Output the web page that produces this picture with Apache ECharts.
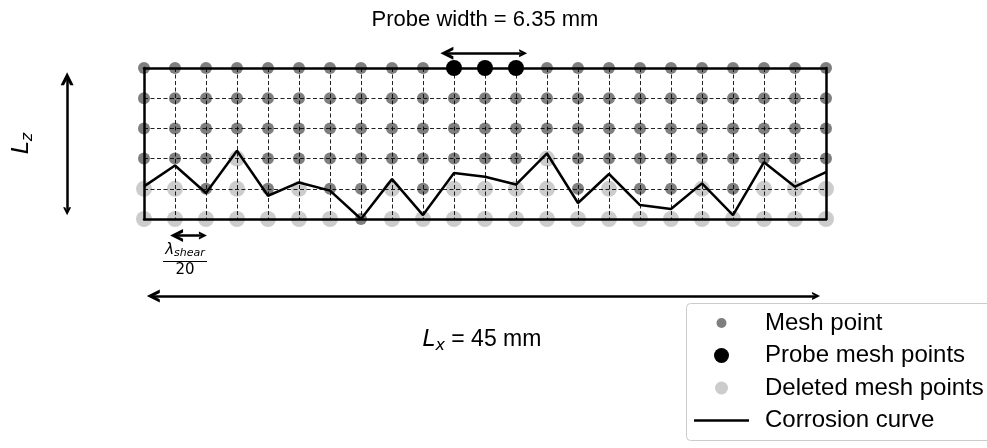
<!DOCTYPE html>
<html>
<head>
<meta charset="utf-8">
<script src="https://cdn.jsdelivr.net/npm/echarts/dist/echarts.min.js"></script>
<style>html,body{margin:0;padding:0;background:#fff}#c{width:987px;height:448px}</style>
</head>
<body>
<div id="c"></div>
<script>
// Mesh columns (x index) and rows (z index)
const columns = [0,1,2,3,4,5,6,7,8,9,10,11,12,13,14,15,16,17,18,19,20,21,22];
const rows = [0,1,2,3,4,5];
// Corrosion curve depth at each column (in mesh units)
const curveDepth = [1.08,1.77,0.86,2.26,0.77,1.21,0.94,0.00,1.32,0.13,1.52,1.40,1.14,2.17,0.53,1.49,0.46,0.33,1.18,0.13,1.88,1.07,1.55];
// Number of deleted rows (from bottom) in each column
const deletedRows = [2,2,1,3,1,2,1,0,2,1,2,2,2,3,1,2,1,1,2,1,2,2,2];
// Probe mesh points (columns on the top row)
const probeColumns = [10,11,12];
const legendNames = ['Mesh point','Probe mesh points','Deleted mesh points','Corrosion curve'];

const meshPts = [], delPts = [];
columns.forEach((c, i) => rows.forEach(r => {
  (r < deletedRows[i] ? delPts : meshPts).push([c, r]);
}));
const topRow = rows[rows.length - 1];
const probePts = probeColumns.map(c => [c, topRow]);
const curvePts = columns.map((c, i) => [c, curveDepth[i]]);

const chev = 'path://M0,10 L5,0 L10,10 L7.4,10 L5,5.2 L2.6,10 Z';
const B = 'M0,0 M55,20 ';
const circ = r => 'path://' + B + 'M' + (27.5 - r) + ',10 a' + r + ',' + r + ' 0 1,0 ' + (2 * r) + ',0 a' + r + ',' + r + ' 0 1,0 ' + (-2 * r) + ',0 Z';

const chart = echarts.init(document.getElementById('c'), null, {renderer: 'canvas'});
const axisCommon = {
  type: 'value', min: 0, interval: 1,
  axisLine: {show: true, onZero: false, lineStyle: {color: '#000', width: 2.5}},
  axisTick: {show: false}, axisLabel: {show: false},
};
const splitDash = {show: true, lineStyle: {color: '#222', width: 1, type: [4, 2.5]}};
const arrow = (a, b) => ({coords: [a, b]});

chart.setOption({
  animation: false,
  backgroundColor: '#fff',
  grid: {left: 143, top: 68, width: 683, height: 151},
  xAxis: [
    Object.assign({}, axisCommon, {max: columns[columns.length - 1], position: 'bottom', splitLine: splitDash}),
    Object.assign({}, axisCommon, {max: columns[columns.length - 1], position: 'top', splitLine: {show: false}})
  ],
  yAxis: [
    Object.assign({}, axisCommon, {max: topRow, position: 'left', splitLine: splitDash,
      name: '{L|L}{s|z}', nameLocation: 'middle', nameRotate: 90, nameGap: 109,
      nameTextStyle: {
        rich: {
          L: {fontFamily: 'DejaVu Sans', fontStyle: 'italic', fontSize: 23, color: '#000', lineHeight: 26},
          s: {fontFamily: 'DejaVu Sans', fontStyle: 'italic', fontSize: 16, color: '#000', lineHeight: 26, padding: [12, 0, 0, 0]}
        }
      }}),
    Object.assign({}, axisCommon, {max: topRow, position: 'right', splitLine: {show: false}})
  ],
  legend: {
    left: 686, top: 303, orient: 'vertical', z: 10,
    borderWidth: 0,
    padding: [8, 8, 8, 8], itemGap: 8.5, itemWidth: 55, itemHeight: 20,
    textStyle: {fontFamily: 'Liberation Sans', fontSize: 24, color: '#000', padding: [0, 0, 0, 11]},
    selectedMode: false,
    data: [
      {name: legendNames[0], icon: circ(5)},
      {name: legendNames[1], icon: circ(7.5)},
      {name: legendNames[2], icon: circ(6.5)},
      {name: legendNames[3], icon: 'path://' + B + 'M0,8.75 H55 V11.25 H0 Z'}
    ]
  },
  series: [
    {name: legendNames[2], type: 'scatter', data: delPts, symbolSize: 16, clip: false, z: 2,
     itemStyle: {color: 'rgba(0,0,0,0.2)', opacity: 1}, silent: true},
    {name: legendNames[0], type: 'scatter', data: meshPts, symbolSize: 12, clip: false, z: 2,
     itemStyle: {color: 'rgba(0,0,0,0.5)', opacity: 1}, silent: true},
    {name: legendNames[3], type: 'line', data: curvePts, showSymbol: false, symbol: 'none', clip: false, z: 3,
     lineStyle: {color: '#000', width: 2.5}, itemStyle: {color: '#000'}, silent: true},
    {name: legendNames[1], type: 'scatter', data: probePts, symbolSize: 16, clip: false, z: 4,
     itemStyle: {color: '#000', opacity: 1}, silent: true},
    {name: 'dimension arrows', type: 'lines', coordinateSystem: 'cartesian2d', clip: false, silent: true, z: 5,
     symbol: [chev, chev], symbolSize: [13, 8],
     lineStyle: {color: '#000', width: 2.5, opacity: 1, curveness: 0},
     data: [
       arrow([-2.48, 4.64], [-2.48, 0.26]),
       arrow([9.77, 5.49], [12.23, 5.49]),
       arrow([0.30, -2.55], [21.68, -2.55]),
       arrow([1.05, -0.55], [1.90, -0.55])
     ]}
  ],
  graphic: [
    {type: 'rect', z: 1, shape: {x: 686.5, y: 303.5, width: 330, height: 137, r: 4},
      style: {fill: '#fff', stroke: '#ccc', lineWidth: 1}},
    {type: 'text', x: 485, y: 20, style: {text: 'Probe width = 6.35 mm', align: 'center', verticalAlign: 'middle',
      font: '22px "Liberation Sans"', fill: '#000'}},
    {type: 'text', x: 482, y: 340, style: {
      text: '{L|L}{s|x}{t| = 45 mm}', align: 'center', verticalAlign: 'middle',
      rich: {
        L: {fontFamily: 'DejaVu Sans', fontStyle: 'italic', fontSize: 23, fill: '#000', lineHeight: 26},
        s: {fontFamily: 'DejaVu Sans', fontStyle: 'italic', fontSize: 16, fill: '#000', lineHeight: 26, padding: [12, 0, 0, 0]},
        t: {fontFamily: 'Liberation Sans', fontSize: 23, fill: '#000', lineHeight: 26}
      }}},
    {type: 'text', x: 185, y: 250, style: {
      text: '{L|λ}{s|shear}', align: 'center', verticalAlign: 'middle',
      rich: {
        L: {fontFamily: 'DejaVu Sans', fontStyle: 'italic', fontSize: 15, fill: '#000', lineHeight: 18},
        s: {fontFamily: 'DejaVu Sans', fontStyle: 'italic', fontSize: 11, fill: '#000', lineHeight: 18, padding: [6, 0, 0, 0]}
      }}},
    {type: 'line', shape: {x1: 163, y1: 261.5, x2: 207, y2: 261.5}, style: {stroke: '#000', lineWidth: 1.2}},
    {type: 'text', x: 185, y: 270.5, style: {text: '20', align: 'center', verticalAlign: 'middle',
      font: '15px "DejaVu Sans"', fill: '#000'}}
  ]
});
</script>
</body>
</html>
